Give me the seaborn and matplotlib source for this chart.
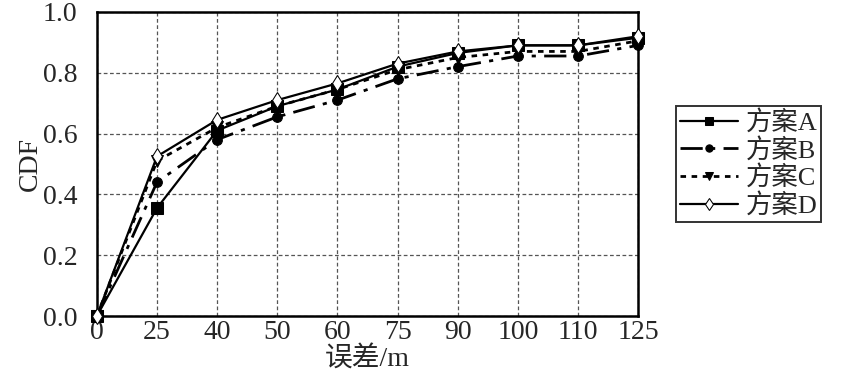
import numpy as np
import pandas as pd
import seaborn as sns
import matplotlib.pyplot as plt

# dados
erros = ["0", "25", "40", "50", "60", "75", "90", "100", "110", "125"]
cdf_a = [0.0, 0.355, 0.61, 0.69, 0.745, 0.82, 0.865, 0.89, 0.89, 0.915]
cdf_b = [0.0, 0.44, 0.58, 0.655, 0.71, 0.78, 0.82, 0.855, 0.855, 0.89]
cdf_c = [0.0, 0.51, 0.62, 0.69, 0.745, 0.81, 0.85, 0.87, 0.87, 0.905]
cdf_d = [0.0, 0.525, 0.645, 0.71, 0.765, 0.83, 0.87, 0.89, 0.89, 0.92]
nomes = ["方案A", "方案B", "方案C", "方案D"]

pos = np.arange(len(erros))
df = pd.DataFrame({
    "pos": np.tile(pos, 4),
    "cdf": cdf_a + cdf_b + cdf_c + cdf_d,
    "esquema": np.repeat(nomes, len(erros)),
})

sns.set_style("white")
plt.rcParams['font.family'] = ['Liberation Serif', 'Noto Sans CJK SC']

fig = plt.figure(figsize=(8.42, 3.84), dpi=100)
ax = fig.add_axes([0.115, 0.177, 0.643, 0.792])

estilos = {
    "方案A": dict(marker="s", ls="-", mfc="black", ms=8, lw=1.6),
    "方案B": dict(marker="o", ls=(0, (8, 3, 1.5, 3)), mfc="black", ms=7, lw=2.0),
    "方案C": dict(marker="v", ls=(0, (2, 2)), mfc="black", ms=8, lw=2.0),
    "方案D": dict(marker="d", ls="-", mfc="white", ms=8, lw=1.6),
}
for nome in nomes:
    st = estilos[nome]
    sns.lineplot(data=df[df["esquema"] == nome], x="pos", y="cdf", ax=ax,
                 color="black", marker=st["marker"], linestyle=st["ls"],
                 markerfacecolor=st["mfc"], markeredgecolor="black",
                 markersize=st["ms"], linewidth=st["lw"], label=nome,
                 clip_on=False, zorder=3)

ax.set_xlim(0, len(erros) - 1)
ax.set_ylim(0, 1.0)
ax.set_xticks(pos)
ax.set_xticklabels(erros)
ax.set_yticks(np.arange(0, 1.01, 0.2))
ax.set_yticklabels([f"{v:.1f}" for v in np.arange(0, 1.01, 0.2)])
ax.tick_params(axis="both", labelsize=20, length=4, direction="in")
ax.tick_params(axis="y", pad=14)
ax.tick_params(axis="x", pad=3)
ax.grid(True, color="#555555", linestyle=(0, (3, 2)), linewidth=0.9)
for s in ax.spines.values():
    s.set_linewidth(1.8)
    s.set_color("black")
ax.set_xlabel("误差/m", fontsize=20, labelpad=1)
ax.set_ylabel("CDF", fontsize=20, labelpad=0)

leg = ax.legend(loc="center left", bbox_to_anchor=(1.045, 0.5), fontsize=19,
                frameon=True, fancybox=False, edgecolor="black",
                handlelength=2.2, handletextpad=0.3, borderpad=0.15,
                labelspacing=0.1, markerscale=0.75)
leg.get_frame().set_linewidth(1.4)

fig.savefig("out.png", dpi=100)
